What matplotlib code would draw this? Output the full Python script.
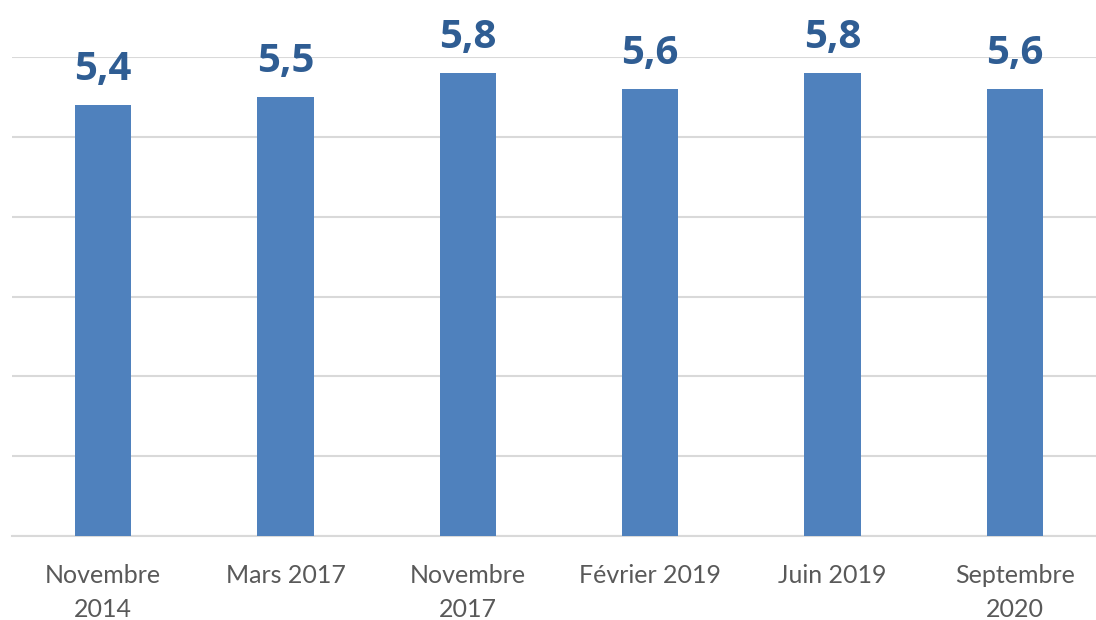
import matplotlib
matplotlib.use("Agg")
import matplotlib.pyplot as plt

categories = ["Novembre\n2014", "Mars 2017", "Novembre\n2017", "Février 2019", "Juin 2019", "Septembre\n2020"]
values = [5.4, 5.5, 5.8, 5.6, 5.8, 5.6]
value_labels = ["5,4", "5,5", "5,8", "5,6", "5,8", "5,6"]

fig = plt.figure(figsize=(10.96, 6.20), dpi=100)
ax = fig.add_axes([12/1096, (620-536)/620, 1094/1096, (536-57)/620])

x = list(range(len(categories)))
bars = ax.bar(x, values, width=0.31, color="#4F81BD", zorder=3)
ax.set_xlim(-0.5, len(categories) - 0.5)
ax.set_ylim(0, 6)
ax.set_yticks([0, 1, 2, 3, 4, 5, 6])
ax.yaxis.grid(True, color="#D9D9D9", linewidth=1.5, zorder=0)
ax.tick_params(axis="y", left=False, labelleft=False)
ax.tick_params(axis="x", bottom=False, pad=17)
ax.set_xticks(x)
ax.set_xticklabels(categories, fontsize=18, color="#595959", family="Lato", linespacing=1.55)
for s in ["top", "right", "left"]:
    ax.spines[s].set_visible(False)
ax.spines["bottom"].set_color("#D9D9D9")
ax.spines["bottom"].set_linewidth(1.5)

for xi, v, lab in zip(x, values, value_labels):
    ax.annotate(lab, (xi, v), xytext=(0, 11.5), textcoords="offset points",
                ha="center", va="bottom", fontsize=29, fontweight="bold",
                color="#2F5D93", family="Open Sans")

fig.savefig("out.png", dpi=100)
